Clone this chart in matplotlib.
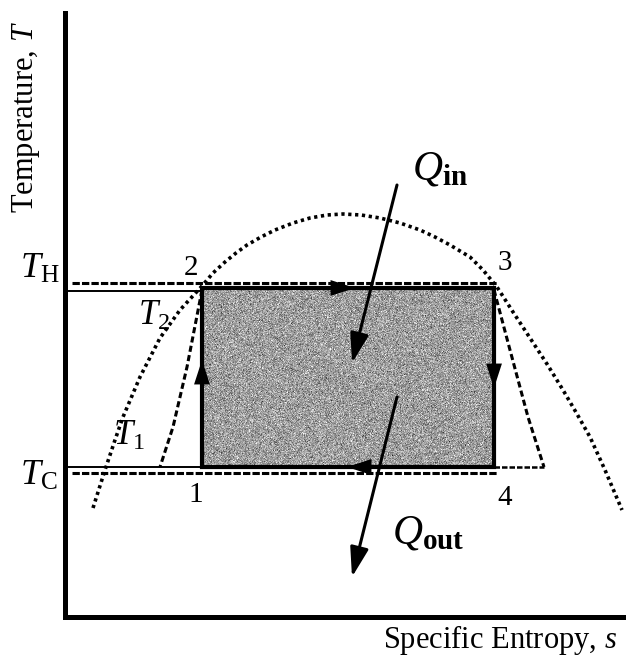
import numpy as np
import matplotlib
matplotlib.use('Agg')
import matplotlib.pyplot as plt
from matplotlib.patches import Rectangle

plt.rcParams['font.family'] = 'Liberation Serif'
plt.rcParams['mathtext.fontset'] = 'custom'
plt.rcParams['mathtext.rm'] = 'Liberation Serif'
plt.rcParams['mathtext.it'] = 'Liberation Serif:italic'
plt.rcParams['mathtext.bf'] = 'Liberation Serif:bold'

# Carnot cycle corners (schematic s-T units)
s_left, s_right = 137, 429
T_hot, T_cold = 329, 150

# saturation dome
dome_s = [28, 40, 50, 58, 75, 95, 115, 137, 148, 160, 171, 182, 196, 210, 228, 245, 262, 278,
          296, 315, 335, 355, 370, 385, 395, 405, 418, 432, 448, 465, 482, 498, 512, 525, 540, 557]
dome_T = [109, 147, 177, 200, 240, 279, 307, 331, 344, 355, 364, 372, 380, 387, 394, 399, 402, 403,
          402, 399, 394, 387, 380, 372, 366, 360, 347, 330, 305, 279, 253, 227, 203, 180, 147, 107]

# real-process curves beside the ideal verticals
left_s = [137, 122, 108, 95]
left_T = [327, 250, 190, 150]
right_s = [429, 445, 463, 479]
right_T = [327, 267, 200, 150]

# reservoir temperature lines
res_s = [7, 433]
res_hot_T = 334
res_cold_T = 144
wall_s = [4, 137]

# heat-flow arrows (start, end)
q_in = [(332, 432), (287, 254)]
q_out = [(332, 220), (287, 40)]

state_labels = ['1', '2', '3', '4']
state_pos = [(131, 122), (126, 349), (440, 354), (440, 119)]

fig = plt.figure(figsize=(6.26, 6.66), dpi=100)
ax = fig.add_axes([65 / 626, 49 / 666, 561 / 626, 604 / 666])
ax.spines['top'].set_visible(False)
ax.spines['right'].set_visible(False)
ax.spines['left'].set_linewidth(3.6)
ax.spines['bottom'].set_linewidth(3.6)
ax.set_xticks([])
ax.set_yticks([])

# speckled grey fill for the work area
rng = np.random.default_rng(3)
grain = np.clip(rng.normal(0.62, 0.12, size=(180, 292)), 0, 1)
ax.imshow(grain, cmap='gray', vmin=0, vmax=1, extent=(s_left, s_right, T_cold, T_hot),
          aspect='auto', interpolation='nearest', zorder=1)

ax.add_patch(Rectangle((s_left, T_cold), s_right - s_left, T_hot - T_cold, fill=False,
                       ec='black', lw=3, zorder=4))

ax.plot(dome_s, dome_T, color='black', lw=2.6, dashes=(0.9, 1.0), zorder=3)
ax.plot(left_s, left_T, color='black', lw=2.2, dashes=(2.0, 1.1), zorder=3)
ax.plot(right_s, right_T, color='black', lw=2.2, dashes=(2.0, 1.1), zorder=3)
ax.plot([s_right, right_s[-1]], [T_cold, T_cold], color='black', lw=1.8, dashes=(2.2, 0.8), zorder=3)

ax.plot(res_s, [res_hot_T, res_hot_T], color='black', lw=2.2, dashes=(2.4, 0.7), zorder=3)
ax.plot(res_s, [res_cold_T, res_cold_T], color='black', lw=2.2, dashes=(2.4, 0.7), zorder=3)
ax.plot(wall_s, [T_hot - 3, T_hot - 3], color='black', lw=1.4, zorder=3)
ax.plot(wall_s, [T_cold, T_cold], color='black', lw=1.4, zorder=3)

# direction of the cycle
head = dict(arrowstyle='-|>,head_length=0.8,head_width=0.26', color='black', lw=0,
            mutation_scale=22, shrinkA=0, shrinkB=0)
ax.annotate('', xy=(s_left, 257), xytext=(s_left, 237), arrowprops=head, zorder=5)
ax.annotate('', xy=(290, T_hot), xytext=(270, T_hot), arrowprops=head, zorder=5)
ax.annotate('', xy=(s_right, 229), xytext=(s_right, 249), arrowprops=head, zorder=5)
ax.annotate('', xy=(282, T_cold), xytext=(302, T_cold), arrowprops=head, zorder=5)

flow = dict(arrowstyle='-|>,head_length=0.9,head_width=0.28', color='black', lw=2.2,
            mutation_scale=20, shrinkA=0, shrinkB=0)
ax.annotate('', xy=q_in[1], xytext=q_in[0], arrowprops=flow, zorder=6)
ax.annotate('', xy=q_out[1], xytext=q_out[0], arrowprops=flow, zorder=6)

ax.text(347, 437, r'$Q_{\mathbf{in}}$', fontsize=30, ha='left', va='baseline', zorder=7)
ax.text(327, 74, r'$Q_{\mathbf{out}}$', fontsize=30, ha='left', va='baseline', zorder=7)

for lab, (x, y) in zip(state_labels, state_pos):
    ax.text(x, y, lab, fontsize=21, ha='center', va='center')

ax.text(-45, 339, r'$T_{\mathrm{H}}$', fontsize=26, ha='left', va='baseline', clip_on=False)
ax.text(-45, 132, r'$T_{\mathrm{C}}$', fontsize=26, ha='left', va='baseline', clip_on=False)
ax.text(73, 292, r'$T_2$', fontsize=25, ha='left', va='baseline')
ax.text(48, 172, r'$T_1$', fontsize=25, ha='left', va='baseline')

ax.text(-39, 500, r'Temperature, $T$', fontsize=22, rotation=90, ha='center', va='center',
        clip_on=False)
ax.text(552, -23, r'Specific Entropy, $s$', fontsize=22, ha='right', va='center',
        clip_on=False)

ax.set_xlim(0, 561)
ax.set_ylim(0, 604)
fig.savefig('out.png', dpi=100)
